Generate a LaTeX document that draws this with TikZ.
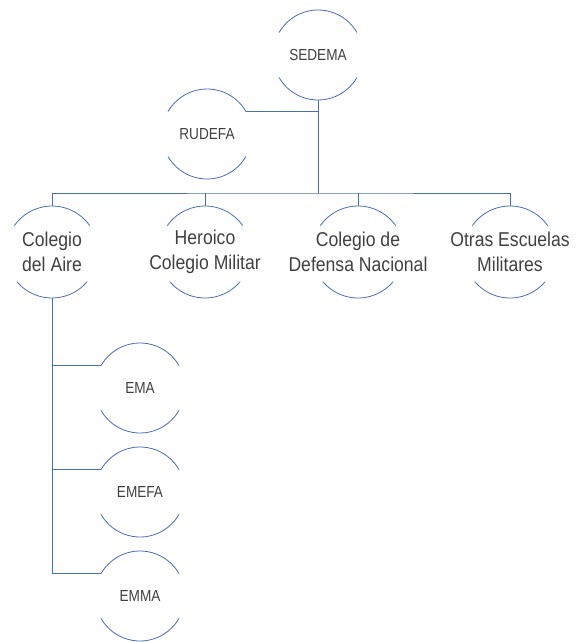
\documentclass[tikz,border=0pt]{standalone}
\usepackage{fontspec}
\setmainfont{Liberation Sans}
\newfontfamily\unitfont[FakeStretch=0.88]{Liberation Sans}
\newfontfamily\subunitfont[FakeStretch=0.85]{Liberation Sans}
\definecolor{linea}{HTML}{4A6CB4}
\definecolor{texto}{HTML}{404040}
\tikzset{
  wire/.style={draw=linea,line width=0.8pt},
  ring/.style={circle,minimum size=90pt,inner sep=0pt,outer sep=0pt},
  bigring/.style={ring,minimum size=92pt},
  unittext/.style={align=center,text=texto,font=\unitfont\fontsize{20}{25}\selectfont},
  subunittext/.style={text=texto,font=\subunitfont\fontsize{16}{19}\selectfont}
}
\begin{document}
\begin{tikzpicture}[x=1pt,y=1pt]
    \useasboundingbox (0,0) rectangle (580,-642);
    \node[ring,label={[subunittext]center:SEDEMA}] (sedema) at (318,-55) {};
    \node[ring,label={[subunittext]center:RUDEFA}] (rudefa) at (207,-134) {};
    \node[bigring,label={[unittext]center:Colegio\\del Aire}] (cda) at (52,-252) {};
    \node[bigring,label={[unittext]center:Heroico\\Colegio Militar}] (hcm) at (205,-252) {};
    \node[bigring,label={[unittext]center:Colegio de\\Defensa Nacional}] (cdn) at (358,-252) {};
    \node[bigring,label={[unittext]center:Otras Escuelas\\Militares}] (oem) at (510,-252) {};
    \node[ring,label={[subunittext]center:EMA}] (ema) at (140,-388) {};
    \node[ring,label={[subunittext]center:EMEFA}] (emefa) at (140,-492) {};
    \node[ring,label={[subunittext]center:EMMA}] (emma) at (140,-596) {};
    \foreach \n in {sedema,rudefa,ema,emefa,emma}
    \draw[wire] (\n.30) arc[start angle=30,end angle=150,radius=45pt]
                (\n.210) arc[start angle=210,end angle=330,radius=45pt];
    \foreach \n in {cda,hcm,cdn,oem}
    \draw[wire] (\n.35) arc[start angle=35,end angle=145,radius=46pt]
                (\n.220) arc[start angle=220,end angle=320,radius=46pt];
    \coordinate (bus) at (318,-193);
    \draw[wire] (sedema.south) -- (bus);
    \draw[wire] (rudefa.30) -- (rudefa.30 -| sedema);
    \draw[wire] (cda.north) |- (bus) -| (oem.north);
    \foreach \n in {hcm,cdn}
    \draw[wire] (\n.north) -- (\n.north |- bus);
    \draw[wire] (cda.south) |- (emma.150);
    \foreach \n in {ema,emefa}
    \draw[wire] (\n.150) -- (\n.150 -| cda);
  \end{tikzpicture}
\end{document}
